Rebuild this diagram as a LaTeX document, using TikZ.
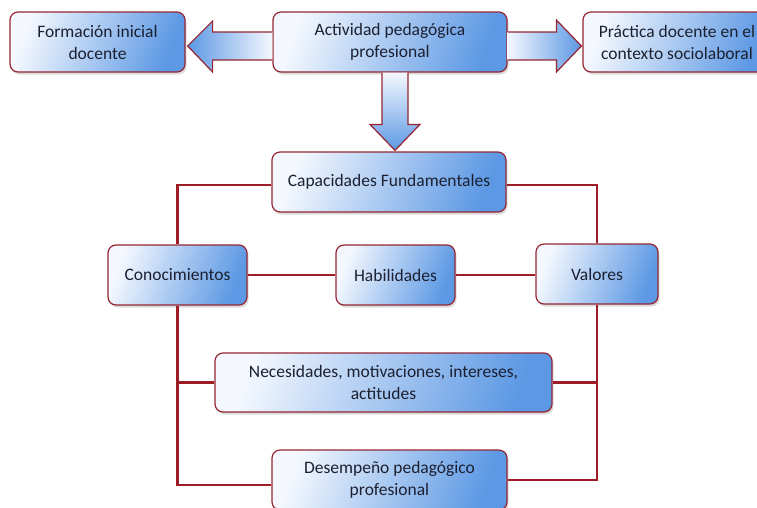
\documentclass[tikz,border=0pt]{standalone}
\usepackage{fontspec}
\setmainfont{Carlito}
\usetikzlibrary{calc,shadows}
\definecolor{boxlight}{RGB}{244,248,254}
\definecolor{boxblue}{RGB}{92,152,228}
\definecolor{rim}{RGB}{150,38,50}
\definecolor{wirered}{RGB}{158,28,38}
\definecolor{ink}{RGB}{28,32,48}
\tikzset{
  cbox/.style={draw=rim, line width=1.2pt, rounded corners=8pt,
    left color=boxlight, right color=boxblue, shading angle=70,
    drop shadow={shadow xshift=1.5pt, shadow yshift=-2.5pt, opacity=.28},
    align=center, text=ink, font=\fontsize{17.5}{22}\selectfont, inner sep=0pt},
  wire/.style={draw=wirered, line width=2.6pt},
  blockarrow/.style={draw=rim, line width=1.2pt, line join=miter},
}
\begin{document}
\begin{tikzpicture}[x=1pt,y=-1pt]
\useasboundingbox[fill=white] (0,0) rectangle (757,507);

% top row
\node[cbox, minimum width=175pt, minimum height=60pt] (form) at (97.5,42) {Formación inicial\\docente};
\node[cbox, minimum width=234pt, minimum height=60pt] (act) at (390,42) {Actividad pedagógica\\profesional};
\node[cbox, minimum width=188pt, minimum height=60pt] (prac) at (677,42) {Práctica docente en el\\contexto sociolaboral};

% capacities block
\node[cbox, minimum width=234pt, minimum height=60pt] (cap) at (389,182) {Capacidades Fundamentales};
\node[cbox, minimum width=139pt, minimum height=60pt] (con) at (177.5,275) {Conocimientos};
\node[cbox, minimum width=119pt, minimum height=60pt] (hab) at (395.5,275) {Habilidades};
\node[cbox, minimum width=122pt, minimum height=60pt] (val) at (597,274) {Valores};
\node[cbox, minimum width=337pt, minimum height=59pt] (nec) at (383.5,382.5) {Necesidades, motivaciones, intereses,\\actitudes};
\node[cbox, minimum width=235pt, minimum height=60pt] (des) at (389.5,480) {Desempeño pedagógico\\profesional};

% block arrows leaving the central activity
\draw[blockarrow, left color=boxblue, right color=boxlight]
  let \p1=(act.west), \p2=(form.east) in
  (\x1,\y1+10pt) -- (\x2+27pt,\y1+10pt) -- (\x2+27pt,\y1+21pt) -- (\x2+2pt,\y1-4pt)
  -- (\x2+27pt,\y1-30pt) -- (\x2+27pt,\y1-18pt) -- (\x1,\y1-18pt);
\draw[blockarrow, left color=boxlight, right color=boxblue]
  let \p1=(act.east), \p2=(prac.west) in
  (\x1,\y1+10pt) -- (\x2-26pt,\y1+10pt) -- (\x2-26pt,\y1+22pt) -- (\x2-1pt,\y1-4pt)
  -- (\x2-26pt,\y1-30pt) -- (\x2-26pt,\y1-18pt) -- (\x1,\y1-18pt);
\draw[blockarrow, top color=boxlight, bottom color=boxblue]
  let \p1=(act.south), \p2=(cap.north) in
  (\x1-8pt,\y1) -- (\x1-8pt,\y2+27pt) -- (\x1-20pt,\y2+27pt) -- (\x1+5pt,\y2+1pt)
  -- (\x1+30pt,\y2+27pt) -- (\x1+18pt,\y2+27pt) -- (\x1+18pt,\y1);

% red connectors
\draw[wire] ([yshift=-3pt]cap.west) -| (con.north);
\draw[wire] ([yshift=-3pt]cap.east) -| (val.north);
\draw[wire] (con.east) -- (hab.west);
\draw[wire] (hab.east) -- (hab.east -| val.west);
\draw[wire] (con.south) |- ([yshift=-5pt]des.west);
\draw[wire] (val.south) |- (des.east);
\draw[wire] (nec.west) -- (nec.west -| con.south);
\draw[wire] (nec.east) -- (nec.east -| val.south);
\end{tikzpicture}
\end{document}
